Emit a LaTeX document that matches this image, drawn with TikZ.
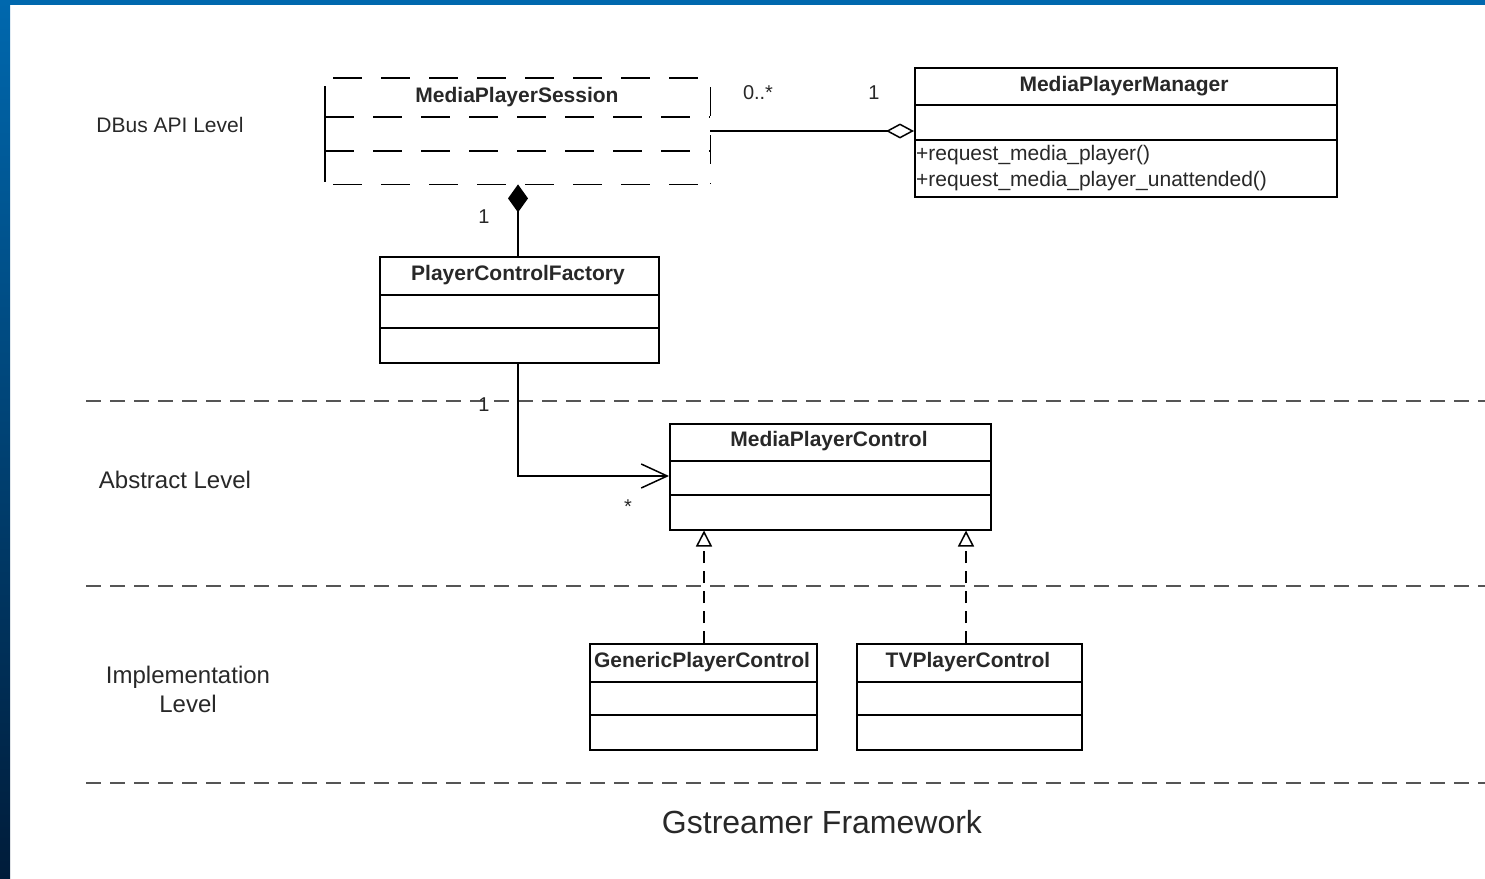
\documentclass[tikz,border=0pt]{standalone}
\usepackage{fontspec}
\setmainfont{Liberation Sans}
\usetikzlibrary{arrows.meta}
\definecolor{frameblue}{RGB}{0,104,174}
\definecolor{framedark}{RGB}{0,28,58}
\definecolor{inkgray}{RGB}{40,40,40}
\definecolor{sepgray}{RGB}{85,85,85}
\tikzset{
  classbox/.style={draw=black, line width=1.5pt, inner sep=0pt, anchor=north west},
  divider/.style={draw=black, line width=1.5pt},
  classtitle/.style={font=\fontsize{21}{24}\selectfont\bfseries, text=inkgray, inner sep=0pt},
  member/.style={font=\fontsize{21}{24}\selectfont, text=inkgray, inner sep=0pt, anchor=west},
  levellabel/.style={font=\fontsize{21}{30}\selectfont, text=inkgray, inner sep=0pt, align=center},
  biglabel/.style={font=\fontsize{24}{29}\selectfont, text=inkgray, inner sep=0pt, align=center},
  mult/.style={font=\fontsize{20}{24}\selectfont, text=inkgray, inner sep=0pt},
  sessdash/.style={draw=black, line width=1.5pt, dash pattern=on 29pt off 19pt},
  levelsep/.style={draw=sepgray, line width=2pt, dash pattern=on 15pt off 9pt},
  assoc/.style={draw=black, line width=1.5pt},
  realize/.style={draw=black, line width=1.5pt, dash pattern=on 12pt off 8pt,
    -{Triangle[open, length=16pt, width=16pt, line width=1.5pt]}},
}
\begin{document}
\begin{tikzpicture}[x=1pt, y=-1pt]
% page and blue frame
\useasboundingbox (0,0) rectangle (1485,878);
\fill[white] (0,0) rectangle (1485,878);
\shade[top color=frameblue, bottom color=framedark] (0,0) rectangle (10,878);
\fill[frameblue] (0,0) rectangle (1485,5);

% level separators
\draw[levelsep] (86,401) -- (1485,401);
\draw[levelsep] (86,586) -- (1485,586);
\draw[levelsep] (86,783) -- (1485,783);

% level labels
\node[levellabel] (lvdbus) at (170,125) {DBus API Level};
\node[biglabel] (lvabs) at (175,480) {Abstract Level};
\node[biglabel] (lvimpl) at (188,689) {Implementation\\Level};
\node[font=\fontsize{32}{36}\selectfont, text=inkgray, inner sep=0pt] (gst) at (822,822) {Gstreamer Framework};

% MediaPlayerSession (dashed class)
\node[inner sep=0pt, minimum width=385pt, minimum height=106pt, anchor=north west] (mps) at (325,78) {};
\draw[sessdash] ([xshift=8pt]mps.north west) -- (mps.north east);
\draw[sessdash] (mps.west |- 0,117) -- (mps.east |- 0,117);
\draw[sessdash] (mps.west |- 0,151) -- (mps.east |- 0,151);
\draw[sessdash] ([xshift=8pt]mps.south west) -- (mps.south east);
\draw[black, line width=1.5pt] (325,86) -- (325,182);
\draw[sessdash] (mps.north east |- 0,87) -- (mps.south east);
\node[classtitle] (mpst) at (517,97) {MediaPlayerSession};

% MediaPlayerManager
\node[classbox, minimum width=422pt, minimum height=129pt] (mpm) at (914,67) {};
\draw[divider] (mpm.west |- 0,105) -- (mpm.east |- 0,105);
\draw[divider] (mpm.west |- 0,140) -- (mpm.east |- 0,140);
\node[classtitle] (mpmt) at (1124,86) {MediaPlayerManager};
\node[member] (mpm1) at (916,155) {+request\_media\_player()};
\node[member] (mpm2) at (916,181) {+request\_media\_player\_unattended()};

% PlayerControlFactory
\node[classbox, minimum width=279pt, minimum height=106pt] (pcf) at (379,256) {};
\draw[divider] (pcf.west |- 0,295) -- (pcf.east |- 0,295);
\draw[divider] (pcf.west |- 0,328) -- (pcf.east |- 0,328);
\node[classtitle] (pcft) at (518,275) {PlayerControlFactory};

% MediaPlayerControl
\node[classbox, minimum width=321pt, minimum height=106pt] (mpc) at (669,423) {};
\draw[divider] (mpc.west |- 0,461) -- (mpc.east |- 0,461);
\draw[divider] (mpc.west |- 0,495) -- (mpc.east |- 0,495);
\node[classtitle] (mpct) at (829,441) {MediaPlayerControl};

% GenericPlayerControl
\node[classbox, minimum width=227pt, minimum height=106pt] (gpc) at (589,643) {};
\draw[divider] (gpc.west |- 0,682) -- (gpc.east |- 0,682);
\draw[divider] (gpc.west |- 0,715) -- (gpc.east |- 0,715);
\node[classtitle] (gpct) at (702,662) {GenericPlayerControl};

% TVPlayerControl
\node[classbox, minimum width=225pt, minimum height=106pt] (tvc) at (856,643) {};
\draw[divider] (tvc.west |- 0,682) -- (tvc.east |- 0,682);
\draw[divider] (tvc.west |- 0,715) -- (tvc.east |- 0,715);
\node[classtitle] (tvct) at (968,662) {TVPlayerControl};

% aggregation: session -- manager
\draw[assoc, -{Diamond[open, length=28pt, width=15pt, line width=1.5pt]}]
  (mps.east |- 0,131) -- (mpm.west |- 0,131);
\node[mult] (m1) at (758,93) {0..*};
\node[mult] (m2) at (874,93) {1};

% composition: factory -- session
\draw[assoc, -{Diamond[length=28pt, width=20pt]}]
  (pcf.north -| 518,0) -- (mps.south -| 518,0);
\node[mult] (m3) at (484,217) {1};

% navigable association: factory -> control
\draw[assoc, -{Straight Barb[length=26pt, width=24pt, line width=1.5pt]}]
  (pcf.south -| 518,0) |- (mpc.west |- 0,476);
\node[mult] (m4) at (484,405) {1};
\node[mult] (m5) at (628,507) {*};

% realizations
\draw[realize] (gpc.north -| 704,0) -- (mpc.south -| 704,0);
\draw[realize] (tvc.north -| 966,0) -- (mpc.south -| 966,0);
\end{tikzpicture}
\end{document}
